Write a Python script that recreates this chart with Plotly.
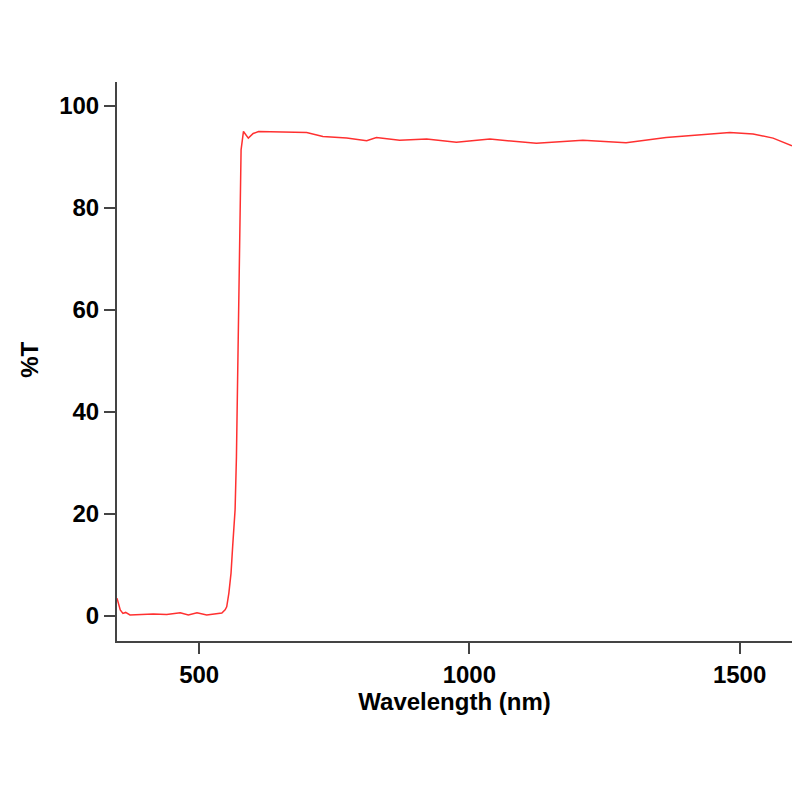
import plotly.graph_objects as go

# transmission spectrum
wavelength = [348, 354, 359, 364, 372, 415, 440, 465, 480, 496, 514, 536, 542,
              548, 551, 555, 559, 562, 566.5, 569, 570.8, 572.6, 574.5, 576,
              577.6, 582, 586, 591, 600, 610, 699, 729, 773, 810, 828, 871,
              921, 976, 1038, 1124, 1210, 1290, 1364, 1426, 1482, 1525, 1562,
              1597]
transmission = [3.5, 1.2, 0.5, 0.7, 0.2, 0.4, 0.3, 0.65, 0.2, 0.65, 0.2, 0.4,
                0.6, 1.2, 1.8, 4.5, 8.4, 13.6, 20.8, 31.2, 43, 56.7, 75.7,
                85.5, 91.4, 95, 94.3, 93.7, 94.6, 95, 94.8, 94.0, 93.7, 93.2,
                93.8, 93.3, 93.5, 92.9, 93.5, 92.7, 93.3, 92.8, 93.8, 94.3,
                94.8, 94.5, 93.7, 92.2]

x_ticks = [500, 1000, 1500]
y_ticks = [0, 20, 40, 60, 80, 100]

font = dict(family="Liberation Sans, Arial, sans-serif", size=24,
            color="black", weight="bold")

fig = go.Figure()
fig.add_trace(go.Scatter(x=wavelength, y=transmission, mode="lines",
                         line=dict(color="#ff3030", width=1.5),
                         showlegend=False))

axis_style = dict(showline=True, linecolor="#444", linewidth=2,
                  ticks="outside", ticklen=11, tickwidth=2, tickcolor="#444",
                  showgrid=False, zeroline=False, tickfont=font)

fig.update_xaxes(range=[348, 1597], tickvals=x_ticks,
                 title=dict(text="Wavelength (nm)", font=font, standoff=4),
                 **axis_style)
fig.update_yaxes(range=[-4.9, 104.7], tickvals=y_ticks, **axis_style)

# y title placed by hand, the axis title would not come close enough to the edge
fig.add_annotation(text="%T", xref="paper", yref="paper", x=-0.129, y=0.503,
                   xanchor="center", yanchor="middle", textangle=-90,
                   showarrow=False, font=font)

# page body adds 8px, so margins are shifted to land the plot area where the reference has it
fig.update_layout(width=800, height=800, plot_bgcolor="white",
                  paper_bgcolor="white",
                  margin=dict(l=109, r=16, t=74, b=167, autoexpand=False))

fig.write_html("out.html")
